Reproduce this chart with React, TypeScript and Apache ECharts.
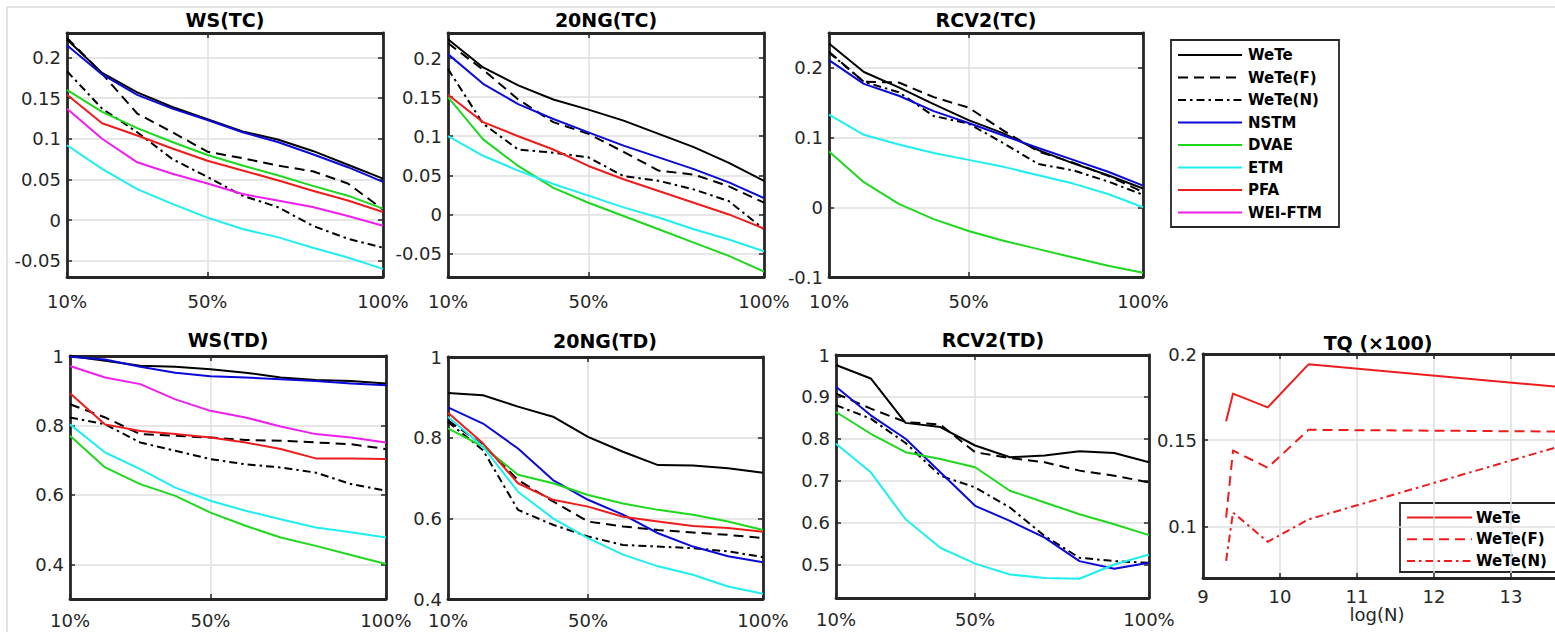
import React, { useEffect, useRef } from "react";
import * as echarts from "echarts";

// ---------- data ----------
const PCT = [10, 20, 30, 40, 50, 60, 70, 80, 90, 100];
const PCT_TICKS = [10, 50, 100];

// WS (TC)
const WS_TC_WETE = [0.222, 0.181, 0.157, 0.139, 0.124, 0.109, 0.099, 0.085, 0.068, 0.051];
const WS_TC_WETE_F = [0.224, 0.18, 0.131, 0.108, 0.084, 0.076, 0.067, 0.06, 0.045, 0.013];
const WS_TC_WETE_N = [0.183, 0.137, 0.108, 0.075, 0.053, 0.03, 0.016, -0.007, -0.023, -0.034];
const WS_TC_NSTM = [0.215, 0.179, 0.154, 0.137, 0.123, 0.108, 0.096, 0.081, 0.065, 0.047];
const WS_TC_DVAE = [0.16, 0.133, 0.113, 0.096, 0.08, 0.067, 0.055, 0.042, 0.03, 0.014];
const WS_TC_ETM = [0.092, 0.063, 0.038, 0.02, 0.003, -0.011, -0.021, -0.034, -0.046, -0.06];
const WS_TC_PFA = [0.154, 0.119, 0.104, 0.088, 0.073, 0.061, 0.049, 0.036, 0.024, 0.01];
const WS_TC_WEI = [0.137, 0.1, 0.071, 0.057, 0.045, 0.032, 0.024, 0.016, 0.005, -0.007];
const WS_TC_YTICKS = [-0.05, 0, 0.05, 0.1, 0.15, 0.2];

// 20NG (TC)
const NG_TC_WETE = [0.224, 0.188, 0.165, 0.147, 0.134, 0.12, 0.103, 0.086, 0.066, 0.043];
const NG_TC_WETE_F = [0.219, 0.185, 0.147, 0.118, 0.103, 0.08, 0.056, 0.051, 0.036, 0.015];
const NG_TC_WETE_N = [0.186, 0.116, 0.083, 0.079, 0.073, 0.049, 0.043, 0.032, 0.017, -0.019];
const NG_TC_NSTM = [0.205, 0.167, 0.141, 0.122, 0.105, 0.088, 0.073, 0.058, 0.041, 0.021];
const NG_TC_DVAE = [0.15, 0.096, 0.062, 0.034, 0.015, -0.002, -0.019, -0.036, -0.053, -0.073];
const NG_TC_ETM = [0.1, 0.075, 0.056, 0.039, 0.024, 0.009, -0.004, -0.019, -0.032, -0.047];
const NG_TC_PFA = [0.153, 0.118, 0.1, 0.083, 0.062, 0.045, 0.03, 0.015, 0.0, -0.018];
const NG_TC_YTICKS = [-0.05, 0, 0.05, 0.1, 0.15, 0.2];

// RCV2 (TC)
const RC_TC_WETE = [0.235, 0.194, 0.172, 0.148, 0.125, 0.106, 0.082, 0.063, 0.046, 0.027];
const RC_TC_WETE_F = [0.223, 0.18, 0.179, 0.158, 0.143, 0.11, 0.08, 0.064, 0.045, 0.022];
const RC_TC_WETE_N = [0.222, 0.18, 0.165, 0.131, 0.12, 0.092, 0.062, 0.053, 0.037, 0.018];
const RC_TC_NSTM = [0.211, 0.177, 0.16, 0.138, 0.121, 0.103, 0.085, 0.068, 0.051, 0.031];
const RC_TC_DVAE = [0.08, 0.036, 0.005, -0.017, -0.034, -0.048, -0.06, -0.072, -0.084, -0.094];
const RC_TC_ETM = [0.133, 0.104, 0.09, 0.078, 0.068, 0.058, 0.046, 0.034, 0.019, 0.0];
const RC_TC_YTICKS = [-0.1, 0, 0.1, 0.2];

// WS (TD)
const WS_TD_WETE = [1.0, 0.986, 0.972, 0.969, 0.962, 0.952, 0.938, 0.931, 0.928, 0.921];
const WS_TD_WETE_F = [0.861, 0.823, 0.775, 0.77, 0.765, 0.758, 0.756, 0.751, 0.746, 0.732];
const WS_TD_WETE_N = [0.823, 0.803, 0.751, 0.727, 0.703, 0.688, 0.679, 0.664, 0.631, 0.612];
const WS_TD_NSTM = [0.998, 0.99, 0.969, 0.952, 0.942, 0.938, 0.933, 0.928, 0.921, 0.916];
const WS_TD_DVAE = [0.77, 0.679, 0.631, 0.597, 0.549, 0.511, 0.477, 0.453, 0.427, 0.401];
const WS_TD_ETM = [0.803, 0.722, 0.674, 0.621, 0.583, 0.554, 0.53, 0.506, 0.492, 0.477];
const WS_TD_PFA = [0.893, 0.803, 0.784, 0.775, 0.765, 0.751, 0.732, 0.705, 0.705, 0.703];
const WS_TD_WEI = [0.971, 0.938, 0.919, 0.875, 0.842, 0.823, 0.797, 0.775, 0.765, 0.751];
const WS_TD_YTICKS = [0.4, 0.6, 0.8, 1];

// 20NG (TD)
const NG_TD_WETE = [0.911, 0.905, 0.877, 0.852, 0.802, 0.765, 0.732, 0.731, 0.724, 0.713];
const NG_TD_WETE_F = [0.843, 0.782, 0.695, 0.642, 0.592, 0.58, 0.571, 0.565, 0.559, 0.551];
const NG_TD_WETE_N = [0.839, 0.769, 0.621, 0.584, 0.555, 0.534, 0.53, 0.526, 0.518, 0.504];
const NG_TD_NSTM = [0.875, 0.835, 0.773, 0.695, 0.646, 0.609, 0.563, 0.53, 0.506, 0.491];
const NG_TD_DVAE = [0.823, 0.778, 0.708, 0.687, 0.658, 0.637, 0.621, 0.609, 0.592, 0.571];
const NG_TD_ETM = [0.852, 0.778, 0.666, 0.6, 0.551, 0.51, 0.481, 0.46, 0.431, 0.413];
const NG_TD_PFA = [0.862, 0.786, 0.687, 0.646, 0.629, 0.604, 0.592, 0.581, 0.576, 0.567];
const NG_TD_YTICKS = [0.4, 0.6, 0.8, 1];

// RCV2 (TD)
const RC_TD_WETE = [0.976, 0.944, 0.838, 0.828, 0.784, 0.756, 0.76, 0.77, 0.766, 0.744];
const RC_TD_WETE_F = [0.908, 0.872, 0.84, 0.834, 0.768, 0.754, 0.744, 0.724, 0.712, 0.696];
const RC_TD_WETE_N = [0.88, 0.848, 0.79, 0.712, 0.684, 0.636, 0.568, 0.516, 0.508, 0.504];
const RC_TD_NSTM = [0.924, 0.856, 0.8, 0.72, 0.64, 0.604, 0.564, 0.508, 0.49, 0.504];
const RC_TD_DVAE = [0.864, 0.812, 0.768, 0.752, 0.732, 0.676, 0.648, 0.62, 0.596, 0.57];
const RC_TD_ETM = [0.788, 0.72, 0.608, 0.54, 0.502, 0.476, 0.468, 0.466, 0.5, 0.524];
const RC_TD_YTICKS = [0.5, 0.6, 0.7, 0.8, 0.9, 1];

// TQ (x100)
const TQ_LOGN = [9.3, 9.39, 9.84, 10.37, 13.6];
const TQ_WETE = [0.161, 0.177, 0.169, 0.194, 0.181];
const TQ_WETE_F = [0.105, 0.144, 0.134, 0.156, 0.155];
const TQ_WETE_N = [0.08, 0.108, 0.091, 0.104, 0.146];
const TQ_XTICKS = [9, 10, 11, 12, 13, 14];
const TQ_XLABELS = [9, 10, 11, 12, 13];
const TQ_YTICKS = [0.1, 0.15, 0.2];

const METHODS = ["WeTe", "WeTe(F)", "WeTe(N)", "NSTM", "DVAE", "ETM", "PFA", "WEI-FTM"];

// ---------- styles ----------
const FONT = '"DejaVu Sans", Verdana, sans-serif';
const AX = "#262626";
const GRIDC = "#dedede";
const DASH = [10, 6];
const DASHDOT = [8, 4, 2.5, 4];
const STYLE: Record<string, { color: string; dash: any }> = {
  "WeTe": { color: "#000000", dash: "solid" },
  "WeTe(F)": { color: "#000000", dash: DASH },
  "WeTe(N)": { color: "#000000", dash: DASHDOT },
  "NSTM": { color: "#0a0ad8", dash: "solid" },
  "DVAE": { color: "#1ed81e", dash: "solid" },
  "ETM": { color: "#1eeef0", dash: "solid" },
  "PFA": { color: "#ee1c1c", dash: "solid" },
  "WEI-FTM": { color: "#ee1eee", dash: "solid" },
};
const TQRED = "#ee1c1c";

type Panel = {
  title: string;
  grid: { left: number; top: number; width: number; height: number };
  titleX: number;
  titleY: number;
  x: [number, number];
  xTicks: number[];
  xLabels: number[];
  y: [number, number];
  yTicks: number[];
  xMargin: number;
  pct: boolean;
  xs: number[];
  lines: [string, number[], string, any][];
};

const s = (name: string, data: number[]): [string, number[], string, any] => [
  name,
  data,
  STYLE[name].color,
  STYLE[name].dash,
];

const PANELS: Panel[] = [
  {
    title: "WS(TC)", grid: { left: 67, top: 33, width: 316, height: 244 }, titleX: 225, titleY: 20,
    x: [10, 100], xTicks: PCT_TICKS, xLabels: PCT_TICKS, y: [-0.07, 0.23], yTicks: WS_TC_YTICKS, xMargin: 15, pct: true, xs: PCT,
    lines: [s("WeTe", WS_TC_WETE), s("WeTe(F)", WS_TC_WETE_F), s("WeTe(N)", WS_TC_WETE_N), s("NSTM", WS_TC_NSTM),
      s("DVAE", WS_TC_DVAE), s("ETM", WS_TC_ETM), s("PFA", WS_TC_PFA), s("WEI-FTM", WS_TC_WEI)],
  },
  {
    title: "20NG(TC)", grid: { left: 448, top: 33, width: 316, height: 244 }, titleX: 606, titleY: 20,
    x: [10, 100], xTicks: PCT_TICKS, xLabels: PCT_TICKS, y: [-0.08, 0.232], yTicks: NG_TC_YTICKS, xMargin: 15, pct: true, xs: PCT,
    lines: [s("WeTe", NG_TC_WETE), s("WeTe(F)", NG_TC_WETE_F), s("WeTe(N)", NG_TC_WETE_N), s("NSTM", NG_TC_NSTM),
      s("DVAE", NG_TC_DVAE), s("ETM", NG_TC_ETM), s("PFA", NG_TC_PFA)],
  },
  {
    title: "RCV2(TC)", grid: { left: 829, top: 33, width: 314, height: 244 }, titleX: 986, titleY: 20,
    x: [10, 100], xTicks: PCT_TICKS, xLabels: PCT_TICKS, y: [-0.1, 0.25], yTicks: RC_TC_YTICKS, xMargin: 15, pct: true, xs: PCT,
    lines: [s("WeTe", RC_TC_WETE), s("WeTe(F)", RC_TC_WETE_F), s("WeTe(N)", RC_TC_WETE_N), s("NSTM", RC_TC_NSTM),
      s("DVAE", RC_TC_DVAE), s("ETM", RC_TC_ETM)],
  },
  {
    title: "WS(TD)", grid: { left: 70, top: 356, width: 316, height: 243 }, titleX: 228, titleY: 340,
    x: [10, 100], xTicks: PCT_TICKS, xLabels: PCT_TICKS, y: [0.3, 1], yTicks: WS_TD_YTICKS, xMargin: 12, pct: true, xs: PCT,
    lines: [s("WeTe", WS_TD_WETE), s("WeTe(F)", WS_TD_WETE_F), s("WeTe(N)", WS_TD_WETE_N), s("NSTM", WS_TD_NSTM),
      s("DVAE", WS_TD_DVAE), s("ETM", WS_TD_ETM), s("PFA", WS_TD_PFA), s("WEI-FTM", WS_TD_WEI)],
  },
  {
    title: "20NG(TD)", grid: { left: 448, top: 357, width: 315, height: 242 }, titleX: 605, titleY: 341,
    x: [10, 100], xTicks: PCT_TICKS, xLabels: PCT_TICKS, y: [0.4, 1], yTicks: NG_TD_YTICKS, xMargin: 12, pct: true, xs: PCT,
    lines: [s("WeTe", NG_TD_WETE), s("WeTe(F)", NG_TD_WETE_F), s("WeTe(N)", NG_TD_WETE_N), s("NSTM", NG_TD_NSTM),
      s("DVAE", NG_TD_DVAE), s("ETM", NG_TD_ETM), s("PFA", NG_TD_PFA)],
  },
  {
    title: "RCV2(TD)", grid: { left: 836, top: 355, width: 313, height: 243 }, titleX: 993, titleY: 340,
    x: [10, 100], xTicks: PCT_TICKS, xLabels: PCT_TICKS, y: [0.42, 1], yTicks: RC_TD_YTICKS, xMargin: 12, pct: true, xs: PCT,
    lines: [s("WeTe", RC_TD_WETE), s("WeTe(F)", RC_TD_WETE_F), s("WeTe(N)", RC_TD_WETE_N), s("NSTM", RC_TD_NSTM),
      s("DVAE", RC_TD_DVAE), s("ETM", RC_TD_ETM)],
  },
  {
    title: "TQ (\u00d7100)", grid: { left: 1203, top: 354, width: 385, height: 224 }, titleX: 1378, titleY: 343,
    x: [9, 14], xTicks: TQ_XTICKS, xLabels: TQ_XLABELS, y: [0.07, 0.2], yTicks: TQ_YTICKS, xMargin: 9, pct: false, xs: TQ_LOGN,
    lines: [["WeTe", TQ_WETE, TQRED, "solid"], ["WeTe(F)", TQ_WETE_F, TQRED, DASH], ["WeTe(N)", TQ_WETE_N, TQRED, DASHDOT]],
  },
];

function buildOption() {
  const grid: any[] = [];
  const xAxis: any[] = [];
  const yAxis: any[] = [];
  const series: any[] = [];
  const graphic: any[] = [];
  const labelStyle = { color: AX, fontSize: 18, fontFamily: FONT };
  const boxLine = { show: true, onZero: false, lineStyle: { color: AX, width: 2.8 } };
  const tickStyle = { color: AX, width: 1.5 };

  PANELS.forEach((p, i) => {
    grid.push({ ...p.grid, containLabel: false, outerBoundsMode: "none" });
    const fmtX = p.pct ? (v: number) => `${v}%` : (v: number) => `${v}`;
    xAxis.push({
      type: "value", gridIndex: i, min: p.x[0], max: p.x[1], position: "bottom",
      axisLine: boxLine,
      axisTick: { show: true, inside: true, length: 5, customValues: p.xTicks, lineStyle: tickStyle },
      axisLabel: { show: true, customValues: p.xLabels, formatter: fmtX, margin: p.xMargin, ...labelStyle },
      splitLine: { show: true, lineStyle: { color: GRIDC, width: 1.5 } },
    });
    xAxis.push({
      type: "value", gridIndex: i, min: p.x[0], max: p.x[1], position: "top",
      axisLine: boxLine,
      axisTick: { show: true, inside: true, length: 5, customValues: p.xTicks, lineStyle: tickStyle },
      axisLabel: { show: false },
      splitLine: { show: false },
    });
    yAxis.push({
      type: "value", gridIndex: i, min: p.y[0], max: p.y[1], position: "left",
      axisLine: boxLine,
      axisTick: { show: true, inside: true, length: 5, customValues: p.yTicks, lineStyle: tickStyle },
      axisLabel: {
        show: true, customValues: p.yTicks, margin: 6,
        formatter: (v: number) => `${parseFloat(v.toFixed(4))}`, ...labelStyle,
      },
      splitLine: { show: true, lineStyle: { color: GRIDC, width: 1.5 } },
    });
    yAxis.push({
      type: "value", gridIndex: i, min: p.y[0], max: p.y[1], position: "right",
      axisLine: boxLine,
      axisTick: { show: true, inside: true, length: 5, customValues: p.yTicks, lineStyle: tickStyle },
      axisLabel: { show: false },
      splitLine: { show: false },
    });
    p.lines.forEach(([name, data, color, dash]) => {
      series.push({
        type: "line", name, xAxisIndex: i * 2, yAxisIndex: i * 2,
        data: p.xs.map((x, k) => [x, data[k]]),
        symbol: "none", showSymbol: false, silent: true,
        lineStyle: { color, width: 2, type: dash, cap: "butt", join: "round" },
        itemStyle: { color },
        clip: true,
      });
    });
    graphic.push({
      type: "text", x: p.titleX, y: p.titleY, z: 10,
      style: { text: p.title, align: "center", verticalAlign: "middle", fill: "#000", font: `bold 19px ${FONT}` },
    });
  });

  // figure border
  graphic.push({ type: "line", shape: { x1: 7, y1: 7, x2: 1555, y2: 7 }, style: { stroke: "#c8c8c8", lineWidth: 1 } });
  graphic.push({ type: "line", shape: { x1: 7, y1: 7, x2: 7, y2: 632 }, style: { stroke: "#c8c8c8", lineWidth: 1 } });

  // main legend
  const legendChildren: any[] = [
    { type: "rect", shape: { x: 1171, y: 40, width: 168, height: 187 }, style: { fill: "#fff", stroke: AX, lineWidth: 1.8 } },
  ];
  METHODS.forEach((m, k) => {
    const yy = 55 + k * 22.5;
    const st = STYLE[m];
    legendChildren.push({
      type: "line", shape: { x1: 1178, y1: yy, x2: 1242, y2: yy },
      style: { stroke: st.color, lineWidth: 2, lineDash: Array.isArray(st.dash) ? st.dash : null },
    });
    legendChildren.push({
      type: "text", x: 1248, y: yy,
      style: { text: m, verticalAlign: "middle", fill: "#000", font: `bold 15px ${FONT}` },
    });
  });
  graphic.push({ type: "group", z: 20, children: legendChildren });

  // TQ legend
  const tqNames = ["WeTe", "WeTe(F)", "WeTe(N)"];
  const tqDash = [null, DASH, DASHDOT];
  const tqChildren: any[] = [
    { type: "rect", shape: { x: 1400, y: 503, width: 170, height: 69 }, style: { fill: "#fff", stroke: AX, lineWidth: 1.8 } },
  ];
  tqNames.forEach((m, k) => {
    const yy = 517.5 + k * 21.7;
    tqChildren.push({
      type: "line", shape: { x1: 1407, y1: yy, x2: 1472, y2: yy },
      style: { stroke: TQRED, lineWidth: 2, lineDash: tqDash[k] },
    });
    tqChildren.push({
      type: "text", x: 1476, y: yy,
      style: { text: m, verticalAlign: "middle", fill: "#000", font: `bold 15px ${FONT}` },
    });
  });
  graphic.push({ type: "group", z: 20, children: tqChildren });

  // x-axis name of TQ
  graphic.push({
    type: "text", x: 1377, y: 614, z: 10,
    style: { text: "log(N)", align: "center", verticalAlign: "middle", fill: AX, font: `18px ${FONT}` },
  });

  return {
    animation: false,
    backgroundColor: "#ffffff",
    grid, xAxis, yAxis, series, graphic,
  };
}

export default function App() {
  const ref = useRef<HTMLDivElement>(null);
  useEffect(() => {
    document.body.style.margin = "0";
    if (!ref.current) return;
    const chart = echarts.init(ref.current, null, { renderer: "svg" });
    chart.setOption(buildOption() as any);
    return () => chart.dispose();
  }, []);
  return <div ref={ref} style={{ width: 1555, height: 632, background: "#fff" }} />;
}
